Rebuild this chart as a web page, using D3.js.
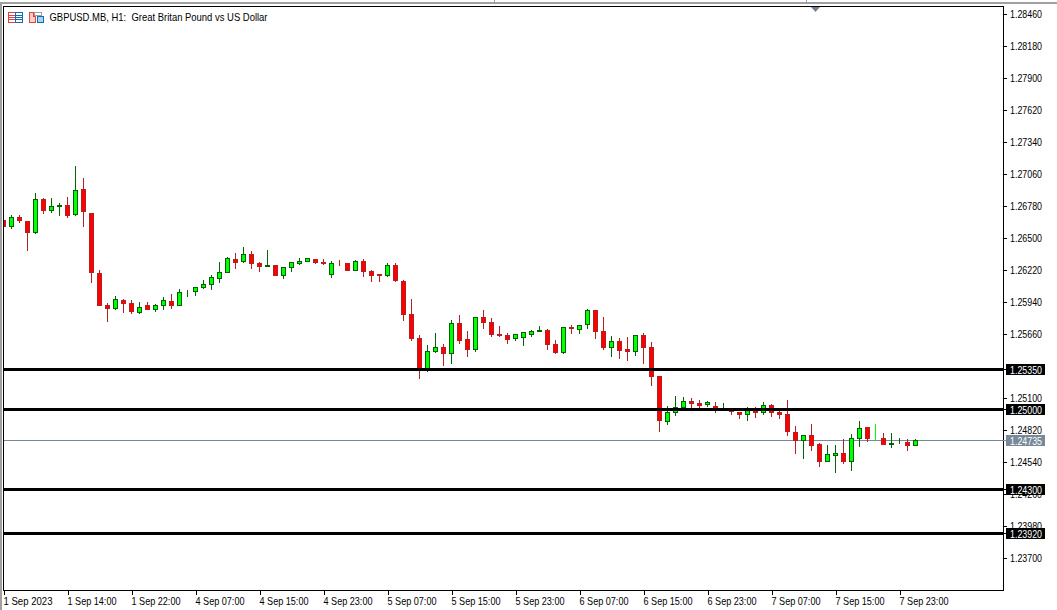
<!DOCTYPE html>
<html><head><meta charset="utf-8">
<script src="https://cdn.jsdelivr.net/npm/d3@7"></script>
<style>
html,body{margin:0;padding:0;background:#fff;overflow:hidden}
svg{display:block}
text{font-family:"Liberation Sans",Arial,sans-serif;font-size:11px;fill:#000;white-space:pre}
</style></head><body>
<script>
const opens=[1.26654,1.26601,1.26680,1.26645,1.26549,1.26838,1.26741,1.26776,1.26785,1.26706,1.26925,1.26715,1.26190,1.25910,1.25884,1.25954,1.25928,1.25849,1.25910,1.25875,1.25910,1.25945,1.25910,1.26024,1.26033,1.26068,1.26094,1.26146,1.26199,1.26313,1.26295,1.26356,1.26278,1.26251,1.26260,1.26173,1.26243,1.26278,1.26295,1.26313,1.26286,1.26181,1.26279,1.26278,1.26216,1.26295,1.26208,1.26181,1.26173,1.26260,1.26120,1.25831,1.25621,1.25350,1.25508,1.25543,1.25490,1.25753,1.25613,1.25525,1.25805,1.25761,1.25656,1.25648,1.25621,1.25630,1.25656,1.25683,1.25691,1.25569,1.25499,1.25718,1.25700,1.25744,1.25866,1.25683,1.25543,1.25595,1.25525,1.25508,1.25648,1.25543,1.25289,1.24895,1.24974,1.25018,1.25070,1.25053,1.25044,1.25026,1.25000,1.25000,1.24974,1.24956,1.24991,1.24974,1.25035,1.24974,1.24956,1.24799,1.24729,1.24773,1.24694,1.24545,1.24598,1.24615,1.24545,1.24746,1.24843,1.24746,1.24746,1.24694,1.24703,1.24711,1.24685];
const highs=[1.26654,1.26698,1.26698,1.26645,1.26890,1.26846,1.26846,1.26803,1.26855,1.27126,1.27021,1.26715,1.26216,1.25928,1.25989,1.25963,1.25954,1.25936,1.25936,1.25919,1.25980,1.26006,1.26050,1.26041,1.26068,1.26129,1.26173,1.26286,1.26330,1.26365,1.26418,1.26383,1.26286,1.26391,1.26260,1.26243,1.26286,1.26321,1.26321,1.26313,1.26313,1.26295,1.26304,1.26278,1.26304,1.26313,1.26216,1.26181,1.26278,1.26278,1.26129,1.25963,1.25648,1.25560,1.25665,1.25569,1.25779,1.25823,1.25683,1.25805,1.25866,1.25796,1.25726,1.25665,1.25656,1.25674,1.25691,1.25726,1.25700,1.25604,1.25718,1.25735,1.25735,1.25875,1.25866,1.25805,1.25639,1.25621,1.25630,1.25648,1.25665,1.25586,1.25289,1.25026,1.25114,1.25105,1.25096,1.25079,1.25070,1.25061,1.25053,1.25009,1.24974,1.25018,1.25018,1.25061,1.25044,1.25000,1.25079,1.24851,1.24773,1.24869,1.24703,1.24685,1.24685,1.24738,1.24781,1.24895,1.24843,1.24869,1.24790,1.24790,1.24746,1.24738,1.24738];
const lows=[1.26601,1.26584,1.26636,1.26391,1.26540,1.26715,1.26724,1.26698,1.26680,1.26698,1.26601,1.26111,1.25910,1.25770,1.25875,1.25849,1.25840,1.25840,1.25875,1.25858,1.25875,1.25884,1.25910,1.25989,1.25998,1.26059,1.26050,1.26111,1.26199,1.26234,1.26286,1.26234,1.26208,1.26251,1.26173,1.26146,1.26208,1.26269,1.26295,1.26278,1.26269,1.26155,1.26260,1.26216,1.26216,1.26164,1.26120,1.26120,1.26164,1.26120,1.25779,1.25604,1.25271,1.25333,1.25499,1.25385,1.25403,1.25578,1.25464,1.25508,1.25709,1.25639,1.25639,1.25578,1.25604,1.25560,1.25639,1.25683,1.25525,1.25490,1.25490,1.25665,1.25665,1.25709,1.25621,1.25525,1.25464,1.25446,1.25429,1.25473,1.25403,1.25210,1.24808,1.24869,1.24948,1.25018,1.25009,1.25000,1.25026,1.24974,1.25000,1.24956,1.24921,1.24904,1.24930,1.24956,1.24939,1.24921,1.24773,1.24615,1.24571,1.24641,1.24501,1.24545,1.24449,1.24528,1.24466,1.24676,1.24720,1.24729,1.24694,1.24668,1.24703,1.24641,1.24685];
const closes=[1.26601,1.26680,1.26654,1.26549,1.26838,1.26741,1.26776,1.26785,1.26698,1.26916,1.26733,1.26199,1.25910,1.25884,1.25963,1.25928,1.25858,1.25893,1.25875,1.25910,1.25954,1.25910,1.26024,1.26025,1.26068,1.26094,1.26155,1.26199,1.26321,1.26286,1.26356,1.26278,1.26251,1.26260,1.26173,1.26243,1.26286,1.26295,1.26321,1.26286,1.26278,1.26278,1.26278,1.26216,1.26295,1.26208,1.26173,1.26173,1.26260,1.26129,1.25831,1.25621,1.25350,1.25508,1.25543,1.25490,1.25753,1.25604,1.25525,1.25805,1.25761,1.25656,1.25648,1.25613,1.25656,1.25674,1.25683,1.25691,1.25569,1.25499,1.25718,1.25709,1.25735,1.25866,1.25683,1.25543,1.25595,1.25516,1.25508,1.25648,1.25543,1.25289,1.24904,1.24974,1.25018,1.25070,1.25053,1.25035,1.25061,1.25009,1.25009,1.24983,1.24956,1.24991,1.24974,1.25035,1.24974,1.24956,1.24808,1.24729,1.24773,1.24685,1.24545,1.24606,1.24615,1.24545,1.24746,1.24834,1.24746,1.24746,1.24694,1.24703,1.24704,1.24685,1.24729];
const dateTicks=[0,8,16,24,32,40,48,56,64,72,80,88,96,104,112];
const dateLabels=["1 Sep 2023","1 Sep 14:00","1 Sep 22:00","4 Sep 07:00","4 Sep 15:00","4 Sep 23:00","5 Sep 07:00","5 Sep 15:00","5 Sep 23:00","6 Sep 07:00","6 Sep 15:00","6 Sep 23:00","7 Sep 07:00","7 Sep 15:00","7 Sep 23:00"];
const priceTicks=[1.2846,1.2818,1.2790,1.2762,1.2734,1.2706,1.2678,1.2650,1.2622,1.2594,1.2566,1.2510,1.2482,1.2454,1.2426,1.2398,1.2370];
const levels=[1.2535,1.2500,1.2430,1.2392];
const bidPrice=1.24735;
const title="GBPUSD.MB, H1:  Great Britan Pound vs US Dollar";

const W=1057,H=610;
const x=d3.scaleLinear().domain([0,114]).range([3.5,915.5]);
const y=d3.scaleLinear().domain([1.25,1.2846]).range([409.5,14.07]);
const row=p=>Math.round(y(p)-.5)+.5;
const levelRow=p=>Math.round(y(p)-.4)+.5;
const UP="#00ff00",UPL="#006400",DN="#ff0000",DNL="#b22222",DOJI="#00ff00";

const svg=d3.select("body").append("svg").attr("width",W).attr("height",H).attr("viewBox",`0 0 ${W} ${H}`);
svg.append("rect").attr("width",W).attr("height",H).attr("fill","#fff");
const crisp=svg.append("g").attr("shape-rendering","crispEdges");

// window chrome
crisp.append("rect").attr("x",0).attr("y",2).attr("width",W).attr("height",2).attr("fill","#a0a0a0");
crisp.append("rect").attr("x",0).attr("y",2).attr("width",2).attr("height",H-2).attr("fill","#a0a0a0");
[494,806].forEach(v=>crisp.append("rect").attr("x",v).attr("y",0).attr("width",1).attr("height",2).attr("fill","#a0a0a0"));

// bid line under the candles
const by=Math.round(y(bidPrice))+.5;
crisp.append("line").attr("x1",4).attr("x2",1003).attr("y1",by).attr("y2",by).attr("stroke","#778899");

// candles
const idx=d3.range(opens.length);
const clipId="plot";
svg.append("clipPath").attr("id",clipId).append("rect").attr("x",4).attr("y",7).attr("width",999).attr("height",583);
const cg=crisp.append("g").attr("clip-path",`url(#${clipId})`);
const lineCol=i=>closes[i]>opens[i]?UPL:closes[i]<opens[i]?DNL:DOJI;
cg.selectAll("line.w").data(idx).join("line").attr("class","w")
  .attr("x1",x).attr("x2",x)
  .attr("y1",i=>row(highs[i])-.5).attr("y2",i=>row(lows[i])+.5)
  .attr("stroke",lineCol);
cg.selectAll("rect.b").data(idx).join("rect").attr("class","b")
  .attr("x",i=>x(i)-2).attr("width",4)
  .attr("y",i=>row(Math.max(opens[i],closes[i])))
  .attr("height",i=>row(Math.min(opens[i],closes[i]))-row(Math.max(opens[i],closes[i])))
  .attr("fill",i=>closes[i]>opens[i]?UP:closes[i]<opens[i]?DN:DOJI)
  .attr("stroke",lineCol);

// axes
const ay=d3.axisRight(y).tickValues(priceTicks).tickSize(3).tickPadding(4).tickFormat(d3.format(".5f"));
const gy=svg.append("g").attr("transform","translate(1003.5,0)").call(ay);
const ax=d3.axisBottom(x).tickValues(dateTicks).tickSize(4).tickPadding(3).tickFormat((d,i)=>dateLabels[i]);
const gx=svg.append("g").attr("transform","translate(0,590.5)").call(ax);
[gy,gx].forEach(g=>{g.select(".domain").remove();g.attr("font-family",null).attr("font-size",null);
  g.selectAll("line").attr("stroke","#000").attr("shape-rendering","crispEdges");});
gy.selectAll(".tick").attr("transform",d=>`translate(0,${Math.round(y(d)-.5)+.5})`);
gy.selectAll("text").attr("text-anchor","start").attr("x",6.5).attr("dy","0.36em").attr("textLength",32).attr("lengthAdjust","spacingAndGlyphs");
gx.selectAll("text").attr("text-anchor","start").attr("x",-.5).attr("textLength",49).attr("lengthAdjust","spacingAndGlyphs");

// frame
crisp.append("path").attr("d","M3.5 590.5V6.5H1003.5V590.5H3.5").attr("fill","none").attr("stroke","#000");

// horizontal levels over the candles
levels.forEach(v=>{
  const ly=levelRow(v);
  crisp.append("line").attr("x1",4).attr("x2",1003).attr("y1",ly).attr("y2",ly).attr("stroke","#000").attr("stroke-width",3);
});

// price tags
function tag(v,col,yy){
  crisp.append("rect").attr("x",1003).attr("y",yy-.5).attr("width",4).attr("height",1).attr("fill",col);
  crisp.append("rect").attr("x",1006).attr("y",yy-5.5).attr("width",39).attr("height",11).attr("fill",col);
  svg.append("text").attr("x",1010).attr("y",yy+4).style("fill","#fff").attr("textLength",32).attr("lengthAdjust","spacingAndGlyphs").text(d3.format(".5f")(v));
}
levels.forEach(v=>tag(v,"#000",levelRow(v)));
tag(bidPrice,"#778899",by);

// triangle marker
svg.append("path").attr("d","M811 7H820L815.5 12Z").attr("fill","#708090");

// title and icons
svg.append("text").attr("x",49.5).attr("y",21).attr("textLength",218).attr("lengthAdjust","spacingAndGlyphs").text(title);
const ic=svg.append("g").attr("shape-rendering","crispEdges").attr("fill","none");
ic.append("path").attr("d","M8.5 12.5H15.5V22.5H8.5ZM9 15.5H15M9 17.5H15M9 19.5H15").attr("stroke","#e8413c");
ic.append("path").attr("d","M15.5 12.5H22.5V22.5H15.5ZM16 15.5H22M16 17.5H22M16 19.5H22").attr("stroke","#0f6cb5");
ic.append("path").attr("d","M29.5 12.5H33.5V16.5H35.5V22.5H29.5Z").attr("stroke","#e8413c").attr("fill","#fbd0cb");
ic.append("path").attr("d","M37.5 16.5H43.5V22.5H37.5Z").attr("stroke","#0f6cb5").attr("fill","#a9d4ee");
ic.append("path").attr("d","M34.5 12.5H41.5V15.5H34.5Z").attr("stroke","#a0a0a0");
</script>
</body></html>
